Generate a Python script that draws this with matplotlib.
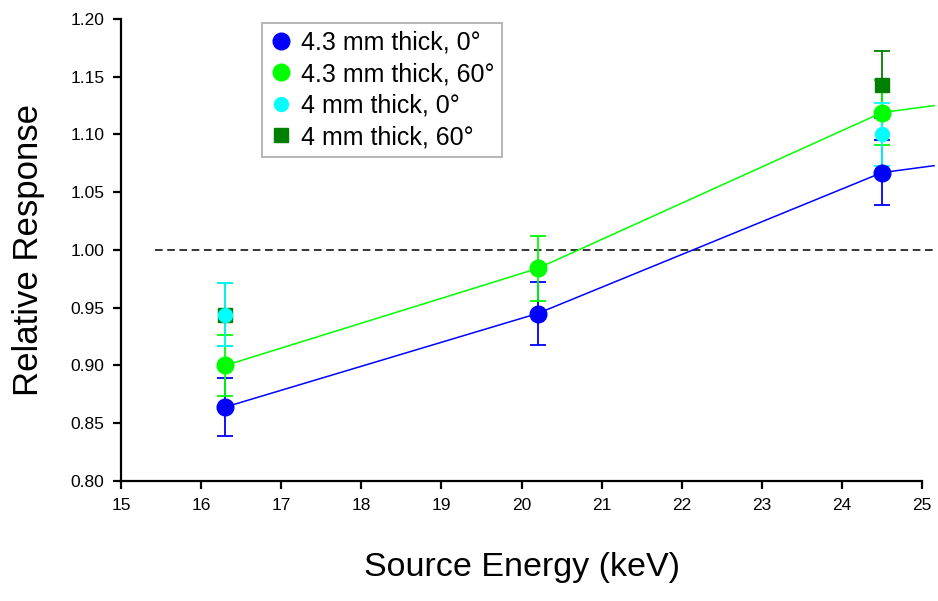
import numpy as np
import matplotlib.pyplot as plt

plt.rcParams['font.family'] = ['Liberation Sans', 'DejaVu Sans']

# data
energy = [16.3, 20.2, 24.5]

thick43_0 = [0.864, 0.945, 1.067]
thick43_0_err = [0.025, 0.027, 0.028]
thick43_60 = [0.900, 0.984, 1.119]
thick43_60_err = [0.026, 0.028, 0.028]

energy_4mm = [16.3, 24.5]
thick4_0 = [0.944, 1.100]
thick4_0_err = [0.027, 0.027]
thick4_60 = [0.944, 1.143]
thick4_60_err = [0.027, 0.029]

# fitted curves (drawn past the last point)
fit_x = [16.3, 20.2, 24.5, 25.15]
fit_43_0 = [0.864, 0.945, 1.067, 1.073]
fit_43_60 = [0.900, 0.984, 1.119, 1.125]

ref_x = [15.42, 25.15]
ref_y = [1.0, 1.0]

fig = plt.figure(figsize=(9.38, 6.01), dpi=100)
ax = fig.add_axes([0.129, 0.1997, 0.854, 0.7687])

ax.plot(ref_x, ref_y, color='black', linestyle=(0, (5, 3)), linewidth=1.1, clip_on=False)
ax.plot(fit_x, fit_43_0, color='#0000ff', linewidth=1.1, clip_on=False)
ax.plot(fit_x, fit_43_60, color='#00ff00', linewidth=1.1, clip_on=False)

eb = dict(capsize=5.5, elinewidth=1.3, capthick=1.3, linestyle='none', clip_on=False)
ax.errorbar(energy_4mm, thick4_60, yerr=thick4_60_err, fmt='s', color='#007f00',
            markersize=10.5, label='4 mm thick, 60°', **eb)
ax.errorbar(energy, thick43_0, yerr=thick43_0_err, fmt='o', color='#0000ff',
            markersize=12, label='4.3 mm thick, 0°', **eb)
ax.errorbar(energy, thick43_60, yerr=thick43_60_err, fmt='o', color='#00ff00',
            markersize=12, label='4.3 mm thick, 60°', **eb)
ax.errorbar(energy_4mm, thick4_0, yerr=thick4_0_err, fmt='o', color='#00ffff',
            markersize=10, label='4 mm thick, 0°', **eb)

ax.set_xlim(15, 25)
ax.set_ylim(0.80, 1.20)
ax.set_xticks(np.arange(15, 26, 1))
ax.set_yticks(np.arange(0.80, 1.201, 0.05))
ax.set_yticklabels(['%.2f' % v for v in np.arange(0.80, 1.201, 0.05)])

for s in ['top', 'right']:
    ax.spines[s].set_visible(False)
for s in ['left', 'bottom']:
    ax.spines[s].set_linewidth(1.6)
ax.tick_params(direction='out', length=6, width=1.6, labelsize=12.5, pad=6)

ax.set_xlabel('Source Energy (keV)', fontsize=24.5, labelpad=28)
ax.set_ylabel('Relative Response', fontsize=25, labelpad=18)

handles, labels = ax.get_legend_handles_labels()
order = [1, 2, 3, 0]
leg = ax.legend([handles[i][0] for i in order], [labels[i] for i in order],
                loc='upper left', bbox_to_anchor=(0.176, 0.991), fontsize=18,
                frameon=True, fancybox=False, edgecolor='#b0b0b0', framealpha=1,
                handletextpad=0.35, handlelength=0.9, borderpad=0.3,
                labelspacing=0.3, borderaxespad=0)
leg.get_frame().set_linewidth(1.3)

fig.savefig('out.png', dpi=100)
